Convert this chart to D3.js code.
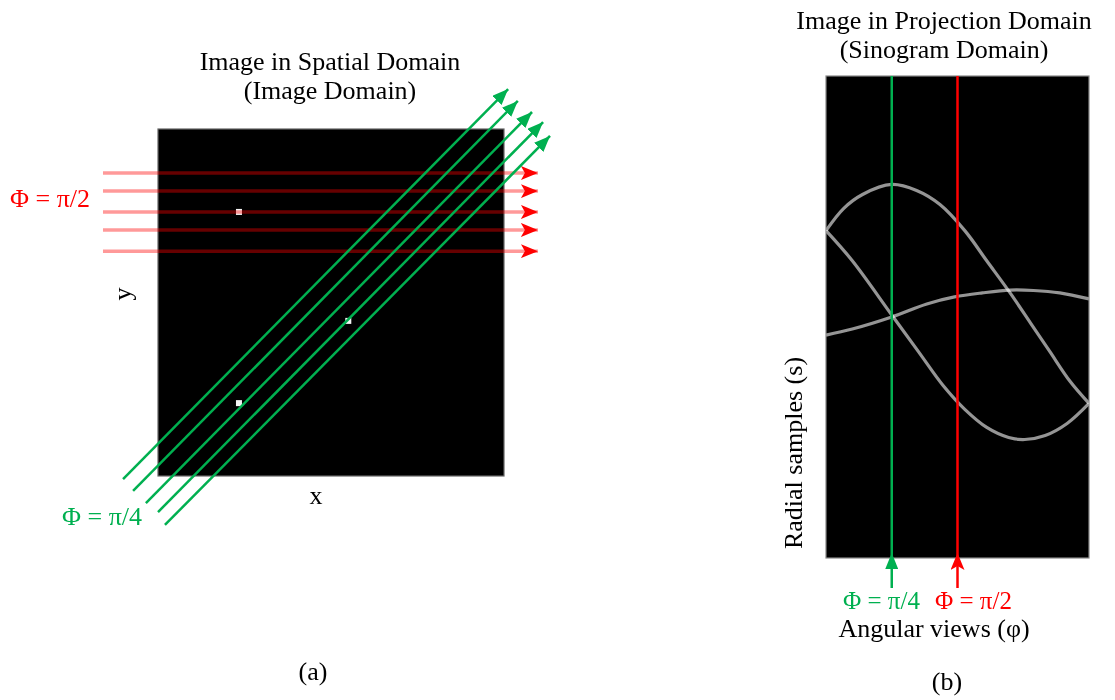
<!DOCTYPE html>
<html>
<head>
<meta charset="utf-8">
<script src="https://cdn.jsdelivr.net/npm/d3@7"></script>
<style>
  body { margin: 0; background: #fff; }
  text { font-family: "Liberation Serif", "Times New Roman", serif; font-size: 26px; }
</style>
</head>
<body>
<svg id="fig" width="1115" height="700"></svg>
<script>
// image domain: point sources (x, y) in image units 0..100
var points = [[23.4, 76.1], [55, 44.7], [23.4, 21]];

// phi = pi/2 rays (horizontal), y in image units, start / tip x
var redRayY = [87.3, 82.1, 76.1, 70.9, 64.8];
var redRayX = [-15.9, 109.8];

// phi = pi/4 rays, start and tip in image units
var greenRayStart = [[-10.1, -0.9], [-7.2, -4.3], [-3.5, -7.8], [0, -10.4], [2.0, -14.1]];
var greenRayEnd = [[101.2, 111.5], [104.0, 108.1], [108.1, 104.9], [111.3, 102.0], [113.3, 98.0]];

// sinogram traces: [angle in degrees, radial sample s]
var sinoA = [[0, 43], [12, 54], [25, 61], [45, 66], [62, 63], [78, 56], [95, 43], [110, 28], [126, 12], [140, -3], [153, -17], [167, -32], [180, -43]];
var sinoB = [[0, 43], [18, 28], [45, 1], [64, -18], [80, -34], [95, -46], [110, -55], [125, -60], [136, -61], [150, -59], [165, -53], [180, -43]];
var sinoC = [[0, -9], [18, -6], [45, 0], [69, 6.5], [88, 10], [107, 12], [126, 13.4], [142, 13.2], [160, 12], [180, 9]];

// highlighted views
var viewAngles = [45, 90];
var viewLabels = ["\u03A6 = \u03C0/4", "\u03A6 = \u03C0/2"];

var GREEN = "#00b050", RED = "#ff0000";

var svg = d3.select("#fig");

var xImg = d3.scaleLinear().domain([0, 100]).range([158, 504]);
var yImg = d3.scaleLinear().domain([0, 100]).range([476, 129]);
var phi = d3.scaleLinear().domain([0, 180]).range([826, 1089]);
var sScale = d3.scaleLinear().domain([-120, 120]).range([558, 76]);

var defs = svg.append("defs");

defs.append("marker")
    .attr("id", "redHead")
    .attr("markerUnits", "userSpaceOnUse")
    .attr("viewBox", "0 0 17 14")
    .attr("markerWidth", 17).attr("markerHeight", 14)
    .attr("refX", 17).attr("refY", 7)
    .attr("orient", "auto")
  .append("path")
    .attr("d", "M0,0 L17,7 L0,14 L4,7 Z")
    .attr("fill", RED);

defs.append("marker")
    .attr("id", "greenHead")
    .attr("markerUnits", "userSpaceOnUse")
    .attr("viewBox", "0 0 16 13")
    .attr("markerWidth", 16).attr("markerHeight", 13)
    .attr("refX", 16).attr("refY", 6.5)
    .attr("orient", "auto")
  .append("path")
    .attr("d", "M0,0 L16,6.5 L0,13 Z")
    .attr("fill", GREEN);

var blur = defs.append("filter").attr("id", "soft")
    .attr("x", "-10%").attr("y", "-10%").attr("width", "120%").attr("height", "120%");
blur.append("feGaussianBlur").attr("stdDeviation", 0.7);

defs.append("clipPath").attr("id", "sinoClip")
  .append("rect")
    .attr("x", phi(0)).attr("y", sScale(120))
    .attr("width", phi(180) - phi(0)).attr("height", sScale(-120) - sScale(120));

// ---------- (a) spatial domain ----------
var left = svg.append("g");

left.append("rect")
    .attr("x", xImg(0)).attr("y", yImg(100))
    .attr("width", xImg(100) - xImg(0))
    .attr("height", yImg(0) - yImg(100))
    .attr("fill", "#000")
    .attr("stroke", "#666")
    .attr("stroke-width", 1.2);

left.selectAll("rect.dot")
    .data(points)
    .enter().append("rect")
    .attr("class", "dot")
    .attr("x", function(d) { return xImg(d[0]) - 3; })
    .attr("y", function(d) { return yImg(d[1]) - 3; })
    .attr("width", 6).attr("height", 6)
    .attr("fill", "#f4f4f4")
    .attr("filter", "url(#soft)");

left.selectAll("line.red")
    .data(redRayY)
    .enter().append("line")
    .attr("class", "red")
    .attr("x1", xImg(redRayX[0]))
    .attr("x2", xImg(redRayX[1]))
    .attr("y1", function(d) { return yImg(d); })
    .attr("y2", function(d) { return yImg(d); })
    .attr("stroke", RED)
    .attr("stroke-opacity", 0.4)
    .attr("stroke-width", 3.5)
    .attr("marker-end", "url(#redHead)");

left.selectAll("line.green")
    .data(d3.zip(greenRayStart, greenRayEnd))
    .enter().append("line")
    .attr("class", "green")
    .attr("x1", function(d) { return xImg(d[0][0]); })
    .attr("y1", function(d) { return yImg(d[0][1]); })
    .attr("x2", function(d) { return xImg(d[1][0]); })
    .attr("y2", function(d) { return yImg(d[1][1]); })
    .attr("stroke", GREEN)
    .attr("stroke-width", 2.5)
    .attr("marker-end", "url(#greenHead)");

left.append("text").attr("x", 330).attr("y", 70).attr("text-anchor", "middle")
    .text("Image in Spatial Domain");
left.append("text").attr("x", 330).attr("y", 99).attr("text-anchor", "middle")
    .text("(Image Domain)");

left.append("text").attr("x", 10).attr("y", 207).attr("fill", RED)
    .text(viewLabels[1]);
left.append("text").attr("x", 62).attr("y", 525).attr("fill", GREEN)
    .text(viewLabels[0]);

left.append("text").attr("x", 316).attr("y", 504).attr("text-anchor", "middle").text("x");
left.append("text")
    .attr("transform", "translate(131,294) rotate(-90)")
    .attr("text-anchor", "middle").text("y");

left.append("text").attr("x", 313).attr("y", 680).attr("text-anchor", "middle").text("(a)");

// ---------- (b) projection domain ----------
var right = svg.append("g");

right.append("rect")
    .attr("x", phi(0)).attr("y", sScale(120))
    .attr("width", phi(180) - phi(0))
    .attr("height", sScale(-120) - sScale(120))
    .attr("fill", "#000")
    .attr("stroke", "#888")
    .attr("stroke-width", 1.2);

var trace = d3.line()
    .x(function(d) { return phi(d[0]); })
    .y(function(d) { return sScale(d[1]); })
    .curve(d3.curveCatmullRom.alpha(0.5));

right.append("g")
    .attr("clip-path", "url(#sinoClip)")
  .selectAll("path")
    .data([sinoA, sinoB, sinoC])
    .enter().append("path")
    .attr("d", trace)
    .attr("fill", "none")
    .attr("stroke", "#959595")
    .attr("stroke-width", 3.2)
    .attr("filter", "url(#soft)")
    .style("mix-blend-mode", "screen");

var viewColors = [GREEN, RED];
var bottom = sScale(-120);

right.selectAll("line.view")
    .data(viewAngles)
    .enter().append("line")
    .attr("class", "view")
    .attr("x1", function(d) { return phi(d); })
    .attr("x2", function(d) { return phi(d); })
    .attr("y1", sScale(120))
    .attr("y2", bottom - 5)
    .attr("stroke", function(d, i) { return viewColors[i]; })
    .attr("stroke-width", 2.5);

right.selectAll("line.viewArrow")
    .data(viewAngles)
    .enter().append("line")
    .attr("class", "viewArrow")
    .attr("x1", function(d) { return phi(d); })
    .attr("x2", function(d) { return phi(d); })
    .attr("y1", bottom + 30)
    .attr("y2", bottom - 5)
    .attr("stroke", function(d, i) { return viewColors[i]; })
    .attr("stroke-width", 2.5)
    .attr("marker-end", function(d, i) { return i == 0 ? "url(#greenHead)" : "url(#redHead)"; });

right.selectAll("text.view")
    .data(viewAngles)
    .enter().append("text")
    .attr("class", "view")
    .attr("x", function(d, i) { return i == 0 ? 843 : 935; })
    .attr("y", 609)
    .style("font-size", "25px")
    .attr("fill", function(d, i) { return viewColors[i]; })
    .text(function(d, i) { return viewLabels[i]; });

right.append("text").attr("x", 934).attr("y", 637).attr("text-anchor", "middle")
    .text("Angular views (\u03C6)");

right.append("text")
    .attr("transform", "translate(802,453) rotate(-90)")
    .attr("text-anchor", "middle").text("Radial samples (s)");

right.append("text").attr("x", 944).attr("y", 29).attr("text-anchor", "middle")
    .text("Image in Projection Domain");
right.append("text").attr("x", 944).attr("y", 58).attr("text-anchor", "middle")
    .text("(Sinogram Domain)");

right.append("text").attr("x", 947).attr("y", 690).attr("text-anchor", "middle").text("(b)");
</script>
</body>
</html>
